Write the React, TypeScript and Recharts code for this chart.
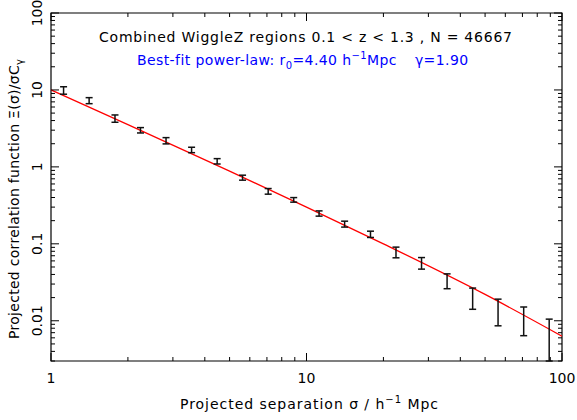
import { ComposedChart, Line, Scatter, ErrorBar, XAxis, YAxis, ReferenceArea } from "recharts"

// projected separation sigma (h^-1 Mpc)
const sep = [1.12, 1.41, 1.78, 2.24, 2.82, 3.55, 4.47, 5.62, 7.08, 8.91, 11.2, 14.1, 17.8, 22.4, 28.2, 35.5, 44.7, 56.2, 70.8, 89.1]
// Xi(sigma)/sigma C_gamma and the ends of its error bars
const xi = [9.85, 7.26, 4.24, 2.99, 2.19, 1.66, 1.19, 0.724, 0.481, 0.373, 0.248, 0.18, 0.133, 0.077, 0.0561, 0.0326, 0.0194, 0.0128, 0.0098, 0.0045]
const xiHi = [11.0, 7.94, 4.73, 3.24, 2.4, 1.8, 1.28, 0.78, 0.523, 0.399, 0.268, 0.197, 0.146, 0.0906, 0.0663, 0.0407, 0.0266, 0.0191, 0.0151, 0.0105]
const xiLo = [8.8, 6.63, 3.8, 2.76, 1.99, 1.53, 1.09, 0.672, 0.442, 0.348, 0.229, 0.165, 0.121, 0.0658, 0.0469, 0.0261, 0.0141, 0.0086, 0.0064, 0.003]

// best-fit model curve
const fitSep = [1, 2, 5, 10, 20, 50, 100]
const fitXi = [10.0, 3.54, 0.88, 0.3, 0.1, 0.022, 0.0063]

const xTicks = [1, 2, 3, 4, 5, 6, 7, 8, 9, 10, 20, 30, 40, 50, 60, 70, 80, 90, 100]
const xLabels = [1, 10, 100]
const yTicks = [
    0.003, 0.004, 0.005, 0.006, 0.007, 0.008, 0.009,
    0.01, 0.02, 0.03, 0.04, 0.05, 0.06, 0.07, 0.08, 0.09,
    0.1, 0.2, 0.3, 0.4, 0.5, 0.6, 0.7, 0.8, 0.9,
    1, 2, 3, 4, 5, 6, 7, 8, 9,
    10, 20, 30, 40, 50, 60, 70, 80, 90, 100,
]
const yLabels = [0.01, 0.1, 1, 10, 100]

const points = sep.map((x, i) => ({ x, y: xi[i], err: [xi[i] - xiLo[i], xiHi[i] - xi[i]] }))
const fit = fitSep.map((x, i) => ({ x, y: fitXi[i] }))

const W = 577
const H = 420
const LEFT = 51
const TOP = 13
const RIGHT = 562
const BOTTOM = 361
const FONT = "'DejaVu Sans', 'Liberation Sans', sans-serif"

const XTick = (props: any) => {
    const { x, payload } = props
    const v = payload.value
    const major = xLabels.includes(v)
    const len = major ? 8 : 4
    return (
        <g>
            <line x1={x} x2={x} y1={BOTTOM} y2={BOTTOM - len} stroke="#000" strokeWidth={1} />
            <line x1={x} x2={x} y1={TOP} y2={TOP + len} stroke="#000" strokeWidth={1} />
            {major && (
                <text x={x} y={383} textAnchor="middle" fontSize={14} fontFamily={FONT} fill="#000">{v}</text>
            )}
        </g>
    )
}

const YTick = (props: any) => {
    const { y, payload } = props
    const v = payload.value
    const major = yLabels.includes(v)
    const len = major ? 8 : 4
    return (
        <g>
            <line x1={LEFT} x2={LEFT + len} y1={y} y2={y} stroke="#000" strokeWidth={1} />
            <line x1={RIGHT} x2={RIGHT - len} y1={y} y2={y} stroke="#000" strokeWidth={1} />
            {major && (
                <text transform={`translate(42, ${y}) rotate(-90)`} textAnchor="middle"
                    fontSize={14} fontFamily={FONT} fill="#000">{v}</text>
            )}
        </g>
    )
}

export default function App() {
    return (
        <div style={{ position: "absolute", left: 0, top: 0, width: W, height: H, background: "#fff" }}>
            <ComposedChart width={W} height={H}
                margin={{ top: TOP, right: W - RIGHT, bottom: 0, left: 0 }}>

                <XAxis dataKey="x" type="number" scale="log" domain={[1, 100]}
                    allowDataOverflow ticks={xTicks} interval={0}
                    height={H - BOTTOM} tickSize={0} tickLine={false} axisLine={false}
                    tick={<XTick />} />

                <YAxis dataKey="y" type="number" scale="log" domain={[0.003, 100]}
                    allowDataOverflow ticks={yTicks} interval={0}
                    width={LEFT} tickSize={0} tickLine={false} axisLine={false}
                    tick={<YTick />} />

                <Line data={fit} dataKey="y" type="monotone" stroke="#ff0000"
                    strokeWidth={1.3} dot={false} isAnimationActive={false} />

                <Scatter data={points} dataKey="y" shape={() => <g />} isAnimationActive={false}>
                    <ErrorBar dataKey="err" direction="y" width={3.5}
                        stroke="#111" strokeWidth={1.5} />
                </Scatter>

                <ReferenceArea x1={1} x2={100} y1={0.003} y2={100}
                    fill="none" stroke="#000" strokeWidth={1.2} ifOverflow="visible" />
            </ComposedChart>

            <svg width={W} height={H} style={{ position: "absolute", left: 0, top: 0, pointerEvents: "none" }}
                fontFamily={FONT}>
                <text x={305.5} y={42} textAnchor="middle" fontSize={14} fill="#000"
                    textLength={413} lengthAdjust="spacing">
                    Combined WiggleZ regions 0.1 &lt; z &lt; 1.3 , N = 46667
                </text>
                <text x={137} y={65} fontSize={14} fill="#0000ff" letterSpacing={0.4}>
                    <tspan>Best-fit power-law: r</tspan>
                    <tspan dy={4} fontSize={10}>0</tspan>
                    <tspan dy={-4}>=4.40 h</tspan>
                    <tspan dy={-6} fontSize={10}>−1</tspan>
                    <tspan dy={6}>Mpc</tspan>
                    <tspan dx={18}>γ=1.90</tspan>
                </text>
                <text x={309} y={409} textAnchor="middle" fontSize={14} fill="#000"
                    textLength={258} lengthAdjust="spacing">
                    <tspan>Projected separation σ / h</tspan>
                    <tspan dy={-6} fontSize={10}>−1</tspan>
                    <tspan dy={6}> Mpc</tspan>
                </text>
                <text transform="translate(19, 199) rotate(-90)" textAnchor="middle" fontSize={14} fill="#000"
                    textLength={280} lengthAdjust="spacing">
                    <tspan>Projected correlation function Ξ(σ)/σC</tspan>
                    <tspan dy={4} fontSize={10}>γ</tspan>
                </text>
            </svg>
        </div>
    )
}
